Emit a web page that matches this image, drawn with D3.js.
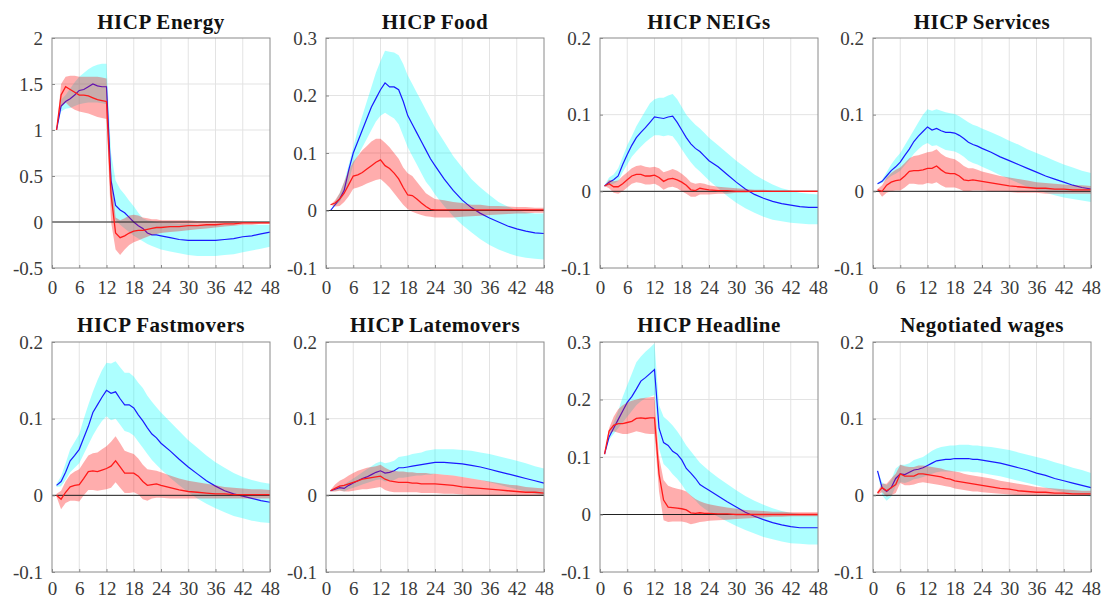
<!DOCTYPE html>
<html>
<head>
<meta charset="utf-8">
<title>Impulse responses</title>
<style>
  body { margin: 0; background: #fff; }
</style>
</head>
<body>
<svg id="chart" width="1104" height="601"></svg>
<script src="https://cdnjs.cloudflare.com/ajax/libs/d3/7.8.5/d3.min.js"></script>
<script>
const months = [1,2,3,4,5,6,7,8,9,10,11,12,13,14,15,16,17,18,19,20,21,22,23,24,26,28,30,32,34,36,38,40,42,44,46,48];
const xTicks = [0,6,12,18,24,30,36,42,48];

// HICP Energy
const energyBlue   = [1.0,1.26,1.31,1.34,1.38,1.43,1.44,1.47,1.5,1.48,1.47,1.47,0.45,0.18,0.13,0.1,0.05,0.0,-0.04,-0.07,-0.12,-0.14,-0.14,-0.15,-0.17,-0.19,-0.2,-0.2,-0.2,-0.2,-0.19,-0.18,-0.16,-0.15,-0.13,-0.11];
const energyBlueLo = [1.0,1.2,1.23,1.24,1.26,1.28,1.29,1.3,1.3,1.3,1.29,1.28,0.2,0.02,-0.03,-0.07,-0.11,-0.15,-0.18,-0.21,-0.24,-0.26,-0.28,-0.3,-0.32,-0.34,-0.36,-0.37,-0.37,-0.37,-0.36,-0.35,-0.33,-0.31,-0.29,-0.27];
const energyBlueHi = [1.0,1.33,1.38,1.45,1.52,1.58,1.62,1.66,1.69,1.71,1.72,1.72,0.75,0.45,0.36,0.3,0.23,0.17,0.1,0.04,0.02,0.01,0.0,-0.01,-0.01,-0.02,-0.02,-0.03,-0.03,-0.03,-0.03,-0.03,-0.03,-0.03,-0.03,-0.03];
const energyRed    = [1.0,1.38,1.47,1.44,1.41,1.38,1.38,1.37,1.35,1.33,1.32,1.31,0.3,-0.12,-0.17,-0.15,-0.12,-0.1,-0.09,-0.09,-0.08,-0.07,-0.06,-0.06,-0.05,-0.05,-0.04,-0.04,-0.03,-0.03,-0.02,-0.02,-0.01,-0.01,-0.01,-0.01];
const energyRedLo  = [1.0,1.25,1.3,1.25,1.22,1.2,1.19,1.18,1.16,1.14,1.13,1.12,0.0,-0.3,-0.36,-0.3,-0.25,-0.22,-0.2,-0.18,-0.16,-0.14,-0.13,-0.12,-0.11,-0.1,-0.09,-0.08,-0.07,-0.06,-0.05,-0.04,-0.03,-0.03,-0.02,-0.02];
const energyRedHi  = [1.0,1.5,1.58,1.59,1.59,1.58,1.58,1.58,1.58,1.58,1.57,1.56,0.55,0.05,0.02,0.04,0.07,0.08,0.07,0.05,0.04,0.03,0.03,0.02,0.02,0.02,0.02,0.01,0.01,0.01,0.01,0.01,0.0,0.0,0.0,0.0];

// HICP Food
const foodBlue   = [0.0,0.01,0.02,0.035,0.07,0.1,0.12,0.14,0.16,0.18,0.195,0.21,0.222,0.215,0.215,0.21,0.19,0.165,0.15,0.135,0.12,0.105,0.09,0.078,0.055,0.035,0.018,0.005,-0.005,-0.013,-0.02,-0.027,-0.032,-0.036,-0.039,-0.04];
const foodBlueLo = [0.0,0.008,0.015,0.028,0.05,0.08,0.095,0.11,0.125,0.14,0.155,0.165,0.17,0.165,0.16,0.15,0.13,0.11,0.095,0.08,0.065,0.05,0.04,0.028,0.008,-0.01,-0.025,-0.038,-0.05,-0.06,-0.068,-0.074,-0.079,-0.082,-0.084,-0.085];
const foodBlueHi = [0.0,0.015,0.03,0.05,0.08,0.11,0.14,0.165,0.19,0.215,0.24,0.26,0.278,0.276,0.275,0.27,0.255,0.235,0.22,0.205,0.19,0.175,0.16,0.145,0.12,0.095,0.075,0.055,0.04,0.027,0.015,0.007,0.0,-0.003,-0.005,-0.005];
const foodRed    = [0.01,0.013,0.02,0.03,0.045,0.06,0.062,0.066,0.072,0.078,0.084,0.088,0.078,0.073,0.065,0.055,0.04,0.027,0.026,0.02,0.013,0.007,0.002,0.001,0.001,0.001,0.001,0.001,0.001,0.001,0.001,0.001,0.001,0.001,0.001,0.001];
const foodRedLo  = [0.01,0.007,0.008,0.015,0.025,0.038,0.04,0.043,0.047,0.05,0.053,0.055,0.048,0.04,0.03,0.02,0.01,0.002,-0.002,-0.005,-0.008,-0.01,-0.011,-0.012,-0.012,-0.012,-0.011,-0.01,-0.009,-0.008,-0.007,-0.006,-0.005,-0.005,-0.004,-0.004];
const foodRedHi  = [0.01,0.018,0.03,0.05,0.07,0.085,0.095,0.105,0.112,0.12,0.125,0.125,0.118,0.11,0.1,0.09,0.075,0.065,0.06,0.05,0.04,0.03,0.025,0.02,0.018,0.015,0.013,0.01,0.01,0.008,0.008,0.007,0.006,0.006,0.005,0.005];

// HICP NEIGs
const neigBlue   = [0.007,0.012,0.015,0.02,0.035,0.048,0.06,0.07,0.077,0.083,0.09,0.097,0.096,0.095,0.097,0.098,0.09,0.08,0.07,0.062,0.056,0.052,0.046,0.04,0.032,0.022,0.012,0.003,-0.004,-0.009,-0.013,-0.016,-0.018,-0.02,-0.021,-0.021];
const neigBlueLo = [0.006,0.008,0.01,0.013,0.025,0.035,0.045,0.052,0.058,0.064,0.069,0.073,0.073,0.072,0.073,0.072,0.064,0.055,0.046,0.038,0.031,0.026,0.02,0.014,0.004,-0.006,-0.015,-0.022,-0.028,-0.033,-0.037,-0.039,-0.041,-0.042,-0.043,-0.043];
const neigBlueHi = [0.008,0.018,0.022,0.03,0.045,0.06,0.072,0.085,0.095,0.105,0.115,0.12,0.122,0.122,0.125,0.127,0.12,0.11,0.1,0.093,0.087,0.082,0.076,0.07,0.06,0.05,0.04,0.031,0.022,0.015,0.009,0.004,0.001,-0.002,-0.003,-0.004];
const neigRed    = [0.007,0.01,0.006,0.006,0.01,0.015,0.02,0.022,0.022,0.02,0.02,0.021,0.018,0.013,0.016,0.017,0.015,0.012,0.008,0.002,0.001,0.004,0.003,0.002,0.001,0.001,0.0,0.0,0.0,0.0,0.0,0.0,0.0,0.0,0.0,0.0];
const neigRedLo  = [0.007,0.004,-0.002,-0.003,0.0,0.005,0.01,0.012,0.011,0.009,0.009,0.01,0.007,0.002,0.005,0.006,0.004,0.0,-0.003,-0.007,-0.007,-0.004,-0.004,-0.004,-0.003,-0.003,-0.002,-0.002,-0.001,-0.001,-0.001,-0.001,-0.001,-0.001,-0.001,-0.001];
const neigRedHi  = [0.007,0.015,0.013,0.014,0.02,0.025,0.03,0.033,0.034,0.032,0.031,0.032,0.03,0.025,0.027,0.029,0.027,0.023,0.018,0.012,0.01,0.011,0.01,0.008,0.006,0.005,0.004,0.003,0.002,0.002,0.001,0.001,0.001,0.001,0.001,0.001];

// HICP Services
const servBlue   = [0.01,0.013,0.02,0.027,0.032,0.038,0.047,0.055,0.065,0.072,0.078,0.084,0.08,0.082,0.079,0.077,0.077,0.076,0.073,0.069,0.064,0.061,0.059,0.056,0.051,0.045,0.04,0.035,0.03,0.025,0.02,0.016,0.012,0.008,0.005,0.003];
const servBlueLo = [0.009,0.011,0.015,0.02,0.023,0.027,0.034,0.041,0.049,0.055,0.06,0.063,0.059,0.06,0.057,0.054,0.053,0.052,0.049,0.045,0.04,0.037,0.035,0.032,0.027,0.021,0.016,0.011,0.006,0.002,-0.002,-0.005,-0.008,-0.01,-0.012,-0.014];
const servBlueHi = [0.011,0.015,0.025,0.035,0.043,0.05,0.06,0.07,0.08,0.09,0.1,0.107,0.105,0.107,0.105,0.103,0.102,0.101,0.098,0.094,0.09,0.087,0.085,0.082,0.077,0.072,0.066,0.061,0.055,0.05,0.045,0.04,0.035,0.031,0.027,0.024];
const servRed    = [0.002,0.0,0.008,0.012,0.014,0.015,0.02,0.026,0.027,0.027,0.028,0.03,0.03,0.033,0.028,0.024,0.023,0.023,0.02,0.015,0.014,0.015,0.014,0.013,0.011,0.009,0.007,0.006,0.005,0.004,0.004,0.003,0.003,0.002,0.002,0.002];
const servRedLo  = [0.001,-0.007,-0.002,0.0,0.001,0.001,0.005,0.01,0.01,0.009,0.009,0.011,0.01,0.012,0.008,0.005,0.005,0.005,0.003,0.0,0.0,0.001,0.001,0.001,0.0,0.0,-0.001,-0.002,-0.002,-0.002,-0.003,-0.003,-0.003,-0.003,-0.003,-0.003];
const servRedHi  = [0.003,0.008,0.018,0.024,0.028,0.031,0.037,0.043,0.046,0.047,0.049,0.051,0.052,0.055,0.049,0.045,0.043,0.042,0.038,0.033,0.03,0.03,0.028,0.026,0.023,0.02,0.018,0.016,0.014,0.012,0.011,0.01,0.009,0.008,0.008,0.007];

// HICP Fastmovers
const fastBlue   = [0.013,0.018,0.03,0.045,0.052,0.06,0.075,0.09,0.108,0.118,0.128,0.137,0.133,0.135,0.126,0.118,0.118,0.114,0.105,0.097,0.088,0.08,0.075,0.068,0.058,0.047,0.037,0.028,0.019,0.012,0.006,0.002,-0.001,-0.004,-0.007,-0.009];
const fastBlueLo = [0.011,0.012,0.02,0.03,0.036,0.042,0.054,0.066,0.078,0.088,0.097,0.103,0.098,0.1,0.092,0.084,0.082,0.078,0.07,0.062,0.054,0.046,0.04,0.034,0.023,0.013,0.004,-0.004,-0.011,-0.017,-0.022,-0.027,-0.03,-0.033,-0.035,-0.036];
const fastBlueHi = [0.015,0.025,0.042,0.06,0.07,0.08,0.1,0.118,0.135,0.15,0.163,0.173,0.172,0.175,0.167,0.16,0.16,0.155,0.147,0.14,0.13,0.122,0.115,0.108,0.096,0.084,0.072,0.062,0.052,0.043,0.036,0.029,0.024,0.02,0.017,0.015];
const fastRed    = [0.0,-0.005,0.004,0.011,0.013,0.014,0.022,0.031,0.032,0.031,0.033,0.035,0.038,0.045,0.037,0.029,0.029,0.029,0.025,0.018,0.013,0.014,0.015,0.013,0.01,0.007,0.005,0.004,0.003,0.002,0.002,0.001,0.001,0.001,0.001,0.001];
const fastRedLo  = [-0.002,-0.018,-0.01,-0.007,-0.007,-0.008,0.0,0.007,0.007,0.006,0.007,0.008,0.01,0.017,0.01,0.003,0.003,0.004,0.001,-0.005,-0.007,-0.004,-0.003,-0.003,-0.004,-0.004,-0.004,-0.004,-0.004,-0.004,-0.004,-0.004,-0.004,-0.004,-0.004,-0.004];
const fastRedHi  = [0.002,0.006,0.018,0.027,0.031,0.034,0.043,0.052,0.055,0.056,0.06,0.064,0.07,0.077,0.068,0.058,0.056,0.054,0.048,0.04,0.034,0.033,0.032,0.03,0.026,0.022,0.019,0.017,0.015,0.013,0.011,0.01,0.009,0.008,0.008,0.007];

// HICP Latemovers
const lateBlue   = [0.006,0.008,0.01,0.009,0.013,0.016,0.019,0.022,0.024,0.027,0.03,0.032,0.029,0.03,0.032,0.036,0.036,0.037,0.038,0.039,0.04,0.041,0.042,0.043,0.043,0.042,0.041,0.039,0.037,0.034,0.031,0.028,0.025,0.022,0.019,0.016];
const lateBlueLo = [0.005,0.006,0.007,0.005,0.008,0.01,0.012,0.014,0.016,0.018,0.02,0.021,0.018,0.019,0.02,0.023,0.023,0.024,0.025,0.026,0.026,0.027,0.027,0.028,0.027,0.026,0.024,0.022,0.02,0.017,0.014,0.011,0.008,0.005,0.002,0.0];
const lateBlueHi = [0.007,0.01,0.013,0.014,0.018,0.022,0.026,0.03,0.034,0.038,0.042,0.044,0.042,0.043,0.045,0.05,0.051,0.052,0.054,0.055,0.056,0.058,0.059,0.06,0.06,0.06,0.059,0.058,0.056,0.054,0.051,0.048,0.045,0.042,0.038,0.035];
const lateRed    = [0.006,0.009,0.012,0.013,0.015,0.017,0.019,0.021,0.022,0.023,0.024,0.025,0.021,0.019,0.018,0.017,0.017,0.017,0.016,0.016,0.015,0.015,0.015,0.015,0.014,0.013,0.011,0.01,0.009,0.008,0.007,0.006,0.005,0.004,0.004,0.003];
const lateRedLo  = [0.005,0.005,0.006,0.005,0.005,0.006,0.007,0.008,0.008,0.009,0.01,0.011,0.007,0.005,0.004,0.004,0.004,0.004,0.004,0.004,0.003,0.003,0.003,0.003,0.002,0.002,0.001,0.0,0.0,-0.001,-0.001,-0.001,-0.001,-0.001,-0.001,-0.001];
const lateRedHi  = [0.007,0.014,0.019,0.022,0.026,0.029,0.032,0.034,0.036,0.037,0.038,0.04,0.036,0.033,0.032,0.031,0.031,0.03,0.03,0.029,0.029,0.029,0.028,0.028,0.027,0.026,0.024,0.022,0.02,0.018,0.016,0.014,0.013,0.011,0.01,0.009];

// HICP Headline
const headBlue   = [0.105,0.135,0.15,0.165,0.18,0.195,0.205,0.218,0.232,0.238,0.245,0.252,0.15,0.125,0.12,0.11,0.105,0.095,0.08,0.072,0.063,0.052,0.047,0.042,0.032,0.022,0.013,0.004,-0.003,-0.009,-0.014,-0.018,-0.021,-0.023,-0.023,-0.023];
const headBlueLo = [0.105,0.13,0.14,0.15,0.16,0.17,0.18,0.19,0.197,0.202,0.205,0.208,0.115,0.088,0.08,0.07,0.062,0.052,0.04,0.032,0.025,0.016,0.01,0.005,-0.004,-0.012,-0.02,-0.027,-0.033,-0.039,-0.043,-0.047,-0.05,-0.051,-0.052,-0.052];
const headBlueHi = [0.105,0.14,0.16,0.18,0.205,0.225,0.245,0.265,0.275,0.283,0.29,0.298,0.19,0.17,0.163,0.155,0.145,0.133,0.12,0.11,0.1,0.09,0.083,0.076,0.064,0.053,0.042,0.032,0.024,0.017,0.011,0.006,0.003,0.001,0.0,0.0];
const headRed    = [0.105,0.145,0.155,0.158,0.158,0.16,0.162,0.167,0.168,0.167,0.168,0.168,0.07,0.025,0.013,0.012,0.011,0.01,0.008,0.003,0.002,0.003,0.002,0.002,0.001,0.001,0.0,0.0,0.0,0.0,0.0,0.0,0.0,0.0,0.0,0.0];
const headRedLo  = [0.105,0.14,0.145,0.142,0.14,0.14,0.142,0.145,0.143,0.141,0.14,0.14,0.04,-0.01,-0.013,-0.012,-0.012,-0.012,-0.014,-0.017,-0.015,-0.013,-0.012,-0.011,-0.01,-0.009,-0.008,-0.007,-0.006,-0.005,-0.004,-0.004,-0.003,-0.003,-0.003,-0.003];
const headRedHi  = [0.105,0.15,0.17,0.183,0.19,0.195,0.198,0.2,0.202,0.203,0.204,0.205,0.1,0.06,0.05,0.047,0.045,0.043,0.04,0.033,0.027,0.023,0.02,0.018,0.015,0.012,0.01,0.008,0.007,0.006,0.005,0.005,0.004,0.004,0.004,0.004];

// Negotiated wages
const wageBlue   = [0.032,0.01,0.005,0.01,0.022,0.028,0.027,0.03,0.033,0.034,0.036,0.039,0.042,0.045,0.046,0.047,0.047,0.048,0.048,0.048,0.048,0.047,0.047,0.046,0.044,0.042,0.039,0.036,0.033,0.029,0.026,0.022,0.019,0.016,0.013,0.01];
const wageBlueLo = [0.03,0.0,-0.007,-0.002,0.012,0.017,0.016,0.018,0.021,0.022,0.024,0.026,0.028,0.03,0.031,0.031,0.031,0.031,0.031,0.031,0.031,0.03,0.03,0.029,0.027,0.025,0.022,0.019,0.016,0.013,0.01,0.007,0.004,0.002,0.0,-0.002];
const wageBlueHi = [0.033,0.017,0.013,0.02,0.035,0.04,0.04,0.042,0.046,0.048,0.05,0.054,0.058,0.061,0.063,0.064,0.065,0.065,0.066,0.066,0.066,0.065,0.065,0.064,0.063,0.061,0.059,0.056,0.053,0.05,0.047,0.043,0.04,0.036,0.033,0.029];
const wageRed    = [0.003,0.01,0.006,0.01,0.014,0.028,0.025,0.025,0.025,0.028,0.028,0.027,0.026,0.025,0.024,0.022,0.021,0.019,0.018,0.017,0.016,0.015,0.014,0.013,0.011,0.009,0.008,0.006,0.005,0.004,0.004,0.003,0.003,0.002,0.002,0.002];
const wageRedLo  = [0.001,0.004,-0.002,0.0,0.003,0.016,0.013,0.013,0.014,0.016,0.017,0.016,0.015,0.014,0.013,0.012,0.011,0.009,0.008,0.007,0.006,0.005,0.005,0.004,0.003,0.002,0.001,0.0,0.0,-0.001,-0.001,-0.001,-0.001,-0.001,-0.001,-0.001];
const wageRedHi  = [0.005,0.015,0.015,0.022,0.028,0.04,0.038,0.037,0.037,0.039,0.039,0.038,0.037,0.036,0.035,0.033,0.032,0.031,0.03,0.028,0.027,0.026,0.025,0.024,0.022,0.019,0.017,0.015,0.013,0.011,0.01,0.009,0.008,0.007,0.006,0.006];

const titles = ["HICP Energy","HICP Food","HICP NEIGs","HICP Services","HICP Fastmovers","HICP Latemovers","HICP Headline","Negotiated wages"];
const yTicksEnergy = [-0.5,0,0.5,1,1.5,2];
const yTicksWide   = [-0.1,0,0.1,0.2,0.3];
const yTicksNarrow = [-0.1,0,0.1,0.2];

const panels = [
  {title: titles[0], yt: yTicksEnergy, b: energyBlue, bl: energyBlueLo, bh: energyBlueHi, r: energyRed, rl: energyRedLo, rh: energyRedHi},
  {title: titles[1], yt: yTicksWide,   b: foodBlue, bl: foodBlueLo, bh: foodBlueHi, r: foodRed, rl: foodRedLo, rh: foodRedHi},
  {title: titles[2], yt: yTicksNarrow, b: neigBlue, bl: neigBlueLo, bh: neigBlueHi, r: neigRed, rl: neigRedLo, rh: neigRedHi},
  {title: titles[3], yt: yTicksNarrow, b: servBlue, bl: servBlueLo, bh: servBlueHi, r: servRed, rl: servRedLo, rh: servRedHi},
  {title: titles[4], yt: yTicksNarrow, b: fastBlue, bl: fastBlueLo, bh: fastBlueHi, r: fastRed, rl: fastRedLo, rh: fastRedHi},
  {title: titles[5], yt: yTicksNarrow, b: lateBlue, bl: lateBlueLo, bh: lateBlueHi, r: lateRed, rl: lateRedLo, rh: lateRedHi},
  {title: titles[6], yt: yTicksWide,   b: headBlue, bl: headBlueLo, bh: headBlueHi, r: headRed, rl: headRedLo, rh: headRedHi},
  {title: titles[7], yt: yTicksNarrow, b: wageBlue, bl: wageBlueLo, bh: wageBlueHi, r: wageRed, rl: wageRedLo, rh: wageRedHi}
];

const serif = '"Liberation Serif", "Times New Roman", serif';

const svg = d3.select('#chart'),
      lefts = [52, 326, 600, 873],
      tops = [38, 342],
      w = 218,
      h = 230;

panels.forEach((p, i) => {
  const row = Math.floor(i / 4);
  const g = svg.append('g')
    .attr('transform', 'translate(' + lefts[i % 4] + ',' + tops[row] + ')');

  const x = d3.scaleLinear().domain([0, 48]).range([0, w]),
        y = d3.scaleLinear().domain(d3.extent(p.yt)).range([h, 0]);

  // grid
  g.append('g').selectAll('line')
    .data(xTicks.slice(1, -1)).enter().append('line')
      .attr('x1', d => x(d)).attr('x2', d => x(d))
      .attr('y1', 0).attr('y2', h)
      .attr('stroke', '#e3e3e3').attr('stroke-width', 1);
  g.append('g').selectAll('line')
    .data(p.yt.slice(1, -1)).enter().append('line')
      .attr('x1', 0).attr('x2', w)
      .attr('y1', d => y(d)).attr('y2', d => y(d))
      .attr('stroke', '#e3e3e3').attr('stroke-width', 1);

  const rows = months.map((m, k) => ({m: m, b: p.b[k], bl: p.bl[k], bh: p.bh[k], r: p.r[k], rl: p.rl[k], rh: p.rh[k]}));

  const area = (lo, hi) => d3.area().x(d => x(d.m)).y0(d => y(d[lo])).y1(d => y(d[hi]));
  const line = key => d3.line().x(d => x(d.m)).y(d => y(d[key]));

  g.append('path').datum(rows).attr('d', area('bl', 'bh'))
    .attr('fill', '#00ffff').attr('fill-opacity', 0.32);
  g.append('path').datum(rows).attr('d', line('b'))
    .attr('fill', 'none').attr('stroke', '#1a1aff').attr('stroke-width', 1.2);
  g.append('path').datum(rows).attr('d', area('rl', 'rh'))
    .attr('fill', '#ff0000').attr('fill-opacity', 0.32);

  // zero line
  g.append('line')
    .attr('x1', 0).attr('x2', w)
    .attr('y1', y(0)).attr('y2', y(0))
    .attr('stroke', '#222').attr('stroke-width', 1);

  g.append('path').datum(rows).attr('d', line('r'))
    .attr('fill', 'none').attr('stroke', '#ff1a1a').attr('stroke-width', 1.3);

  // axes
  const xAxis = d3.axisBottom(x).tickValues(xTicks).tickSize(-3).tickPadding(row ? 10 : 13).tickFormat(d3.format('d')),
        yAxis = d3.axisLeft(y).tickValues(p.yt).tickSize(-3).tickPadding(9).tickFormat(d => String(d));

  [g.append('g').attr('transform', 'translate(0,' + h + ')').call(xAxis),
   g.append('g').call(yAxis)].forEach(a => {
    a.attr('font-family', serif).attr('font-size', 19);
    a.select('.domain').remove();
    a.selectAll('line').attr('stroke', '#8a8a8a');
    a.selectAll('text').attr('fill', '#3a3a3a');
  });

  g.append('rect')
    .attr('x', 0).attr('y', 0).attr('width', w).attr('height', h)
    .attr('fill', 'none').attr('stroke', '#8a8a8a').attr('stroke-width', 1);

  g.append('text')
    .attr('x', w / 2)
    .attr('y', row ? -10 : -9)
    .attr('text-anchor', 'middle')
    .attr('font-family', serif)
    .attr('font-size', 21)
    .attr('font-weight', 'bold')
    .attr('letter-spacing', 0.5)
    .attr('fill', '#111')
    .text(p.title);
});
</script>
</body>
</html>
